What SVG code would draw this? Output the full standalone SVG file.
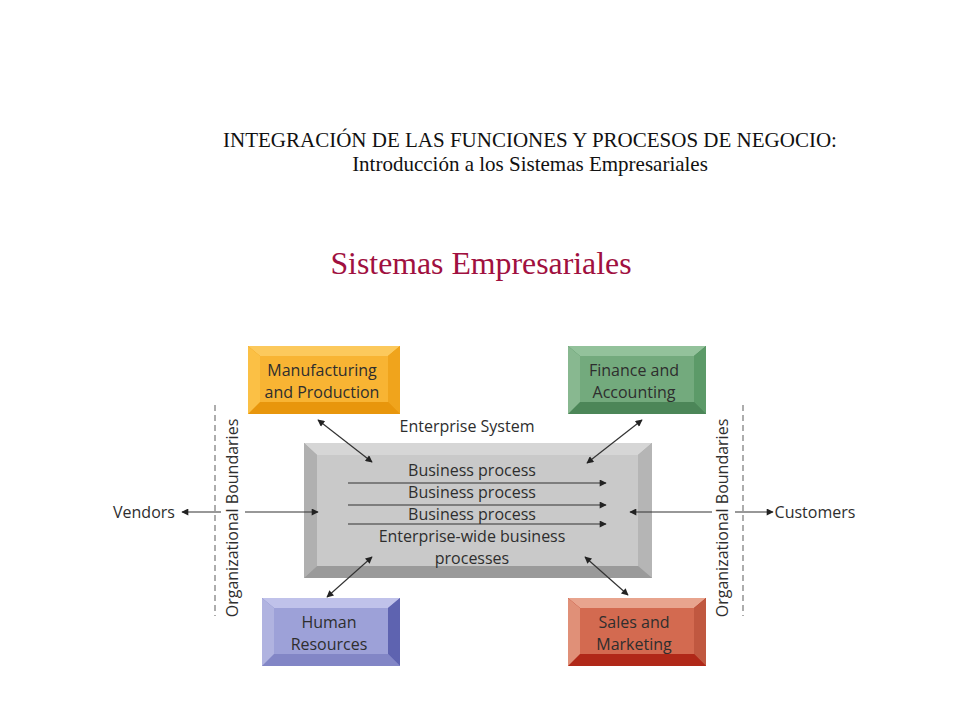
<svg xmlns="http://www.w3.org/2000/svg" width="960" height="720" viewBox="0 0 960 720">
<style>
.ttl{font-family:"Liberation Serif","Times New Roman",serif;fill:#111;text-anchor:middle}
.lbl{font-family:"Open Sans","Noto Sans",sans-serif;fill:#2e2e2e;font-size:16px;text-anchor:middle}
.conn{stroke:#333;stroke-width:1.2;fill:none}
.dash{stroke:#777;stroke-width:1.2;stroke-dasharray:6,4;fill:none}
</style>
<defs>
<marker id="ah" viewBox="0 0 10 10" refX="9" refY="5" markerWidth="9" markerHeight="7" markerUnits="userSpaceOnUse" orient="auto-start-reverse">
<path d="M0,0 L10,5 L0,10 z" fill="#222"/>
</marker>
</defs>
<rect width="960" height="720" fill="#fff"/>
<g id="title">
<text class="ttl" x="530" y="147" font-size="21">INTEGRACIÓN DE LAS FUNCIONES Y PROCESOS DE NEGOCIO:</text>
<text class="ttl" x="530" y="171" font-size="21">Introducción a los Sistemas Empresariales</text>
<text class="ttl" x="481" y="274" font-size="31.8" style="fill:#a01040">Sistemas Empresariales</text>
</g>
<g id="enterprise">
<rect x="304" y="443" width="348" height="135" fill="#aaa"/>
<polygon points="304,443 652,443 638,455 317,455" fill="#d6d6d6"/>
<polygon points="652,443 652,578 638,566 638,455" fill="#b5b5b5"/>
<polygon points="652,578 304,578 317,566 638,566" fill="#9a9a9a"/>
<polygon points="304,578 304,443 317,455 317,566" fill="#b0b0b0"/>
<rect x="317" y="455" width="321" height="111" fill="#c9c9c9"/>
<text class="lbl" x="467" y="432">Enterprise System</text>
<text class="lbl" x="472" y="475.5">Business process</text>
<text class="lbl" x="472" y="497.5">Business process</text>
<text class="lbl" x="472" y="519.5">Business process</text>
<text class="lbl" x="472" y="541.5">Enterprise-wide business</text>
<text class="lbl" x="472" y="563.5">processes</text>
</g>
<g id="manufacturing">
<rect x="248" y="346" width="152" height="68" fill="#e8960c"/>
<polygon points="248,346 400,346 388,356 260,356" fill="#fcc95c"/>
<polygon points="400,346 400,414 388,402 388,356" fill="#f0a41c"/>
<polygon points="400,414 248,414 260,402 388,402" fill="#e8960c"/>
<polygon points="248,414 248,346 260,356 260,402" fill="#fbc045"/>
<rect x="260" y="356" width="128" height="46" fill="#f8b433"/>
<text class="lbl" x="322" y="375.5">Manufacturing</text>
<text class="lbl" x="322" y="397.5">and Production</text>
</g>
<g id="finance">
<rect x="568" y="346" width="138" height="68" fill="#4c8658"/>
<polygon points="568,346 706,346 694,356 580,356" fill="#93c29b"/>
<polygon points="706,346 706,414 694,402 694,356" fill="#5c9a68"/>
<polygon points="706,414 568,414 580,402 694,402" fill="#4c8658"/>
<polygon points="568,414 568,346 580,356 580,402" fill="#88b890"/>
<rect x="580" y="356" width="114" height="46" fill="#73aa7d"/>
<text class="lbl" x="634" y="375.5">Finance and</text>
<text class="lbl" x="634" y="397.5">Accounting</text>
</g>
<g id="hr">
<rect x="262" y="598" width="138" height="68" fill="#7f83c4"/>
<polygon points="262,598 400,598 388,608 274,608" fill="#c0c2ea"/>
<polygon points="400,598 400,666 388,654 388,608" fill="#5e63b0"/>
<polygon points="400,666 262,666 274,654 388,654" fill="#8286c6"/>
<polygon points="262,666 262,598 274,608 274,654" fill="#b0b3e0"/>
<rect x="274" y="608" width="114" height="46" fill="#9da1d8"/>
<text class="lbl" x="329" y="627.5">Human</text>
<text class="lbl" x="329" y="649.5">Resources</text>
</g>
<g id="sales">
<rect x="568" y="598" width="138" height="68" fill="#b02818"/>
<polygon points="568,598 706,598 694,608 580,608" fill="#e8a48e"/>
<polygon points="706,598 706,666 694,654 694,608" fill="#c05840"/>
<polygon points="706,666 568,666 580,654 694,654" fill="#b02818"/>
<polygon points="568,666 568,598 580,608 580,654" fill="#e09078"/>
<rect x="580" y="608" width="114" height="46" fill="#d36a50"/>
<text class="lbl" x="634" y="627.5">Sales and</text>
<text class="lbl" x="634" y="649.5">Marketing</text>
</g>
<g id="boundaries">
<line class="dash" x1="215" y1="405" x2="215" y2="616"/>
<line class="dash" x1="743" y1="405" x2="743" y2="616"/>
<text class="lbl" transform="translate(238,518) rotate(-90)">Organizational Boundaries</text>
<text class="lbl" transform="translate(728,518) rotate(-90)">Organizational Boundaries</text>
</g>
<g id="vendors">
<text class="lbl" x="144" y="518">Vendors</text>
</g>
<g id="customers">
<text class="lbl" x="815" y="518">Customers</text>
</g>
<g id="connectors">
<line class="conn" x1="348" y1="483" x2="606" y2="483" marker-end="url(#ah)"/>
<line class="conn" x1="348" y1="505" x2="606" y2="505" marker-end="url(#ah)"/>
<line class="conn" x1="348" y1="524" x2="606" y2="524" marker-end="url(#ah)"/>
<line class="conn" x1="318" y1="420" x2="372" y2="462" marker-start="url(#ah)" marker-end="url(#ah)"/>
<line class="conn" x1="642" y1="420" x2="587" y2="463" marker-start="url(#ah)" marker-end="url(#ah)"/>
<line class="conn" x1="372" y1="557" x2="327" y2="597" marker-start="url(#ah)" marker-end="url(#ah)"/>
<line class="conn" x1="585" y1="557" x2="628" y2="595" marker-start="url(#ah)" marker-end="url(#ah)"/>
<line class="conn" x1="221" y1="512" x2="182" y2="512" marker-end="url(#ah)"/>
<line class="conn" x1="245" y1="512" x2="318" y2="512" marker-end="url(#ah)"/>
<line class="conn" x1="712" y1="512" x2="630" y2="512" marker-end="url(#ah)"/>
<line class="conn" x1="735" y1="512" x2="773" y2="512" marker-end="url(#ah)"/>
</g>
</svg>
